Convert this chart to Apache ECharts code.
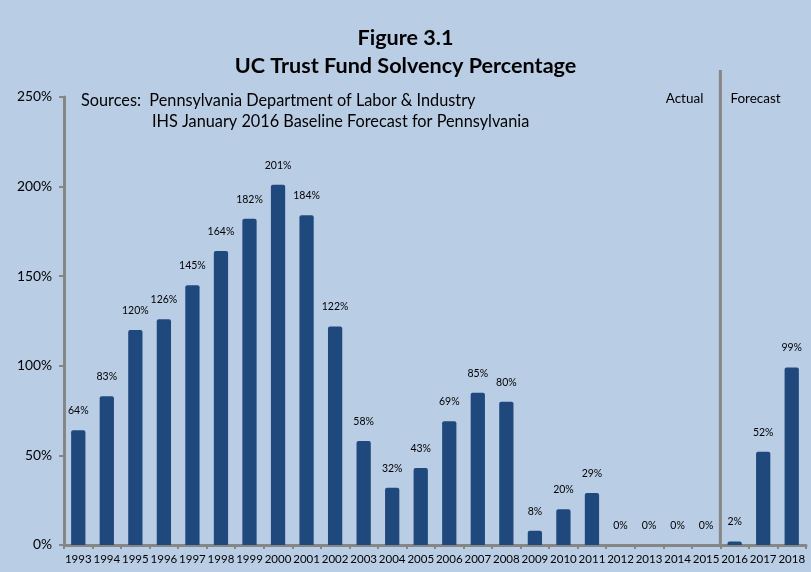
<!DOCTYPE html>
<html><head><meta charset="utf-8">
<script src="https://cdn.jsdelivr.net/npm/echarts@6/dist/echarts.min.js"></script>
<style>html,body{margin:0;padding:0;background:#B9CDE5;}#c{width:811px;height:572px;}</style>
</head><body><div id="c"></div>
<script>
const years = ['1993','1994','1995','1996','1997','1998','1999','2000','2001','2002','2003','2004','2005','2006','2007','2008','2009','2010','2011','2012','2013','2014','2015','2016','2017','2018'];
const solvency = [64,83,120,126,145,164,182,201,184,122,58,32,43,69,85,80,8,20,29,0,0,0,0,2,52,99];
const yTicks = [0,50,100,150,200,250];
const FONT = 'Lato, "Open Sans", sans-serif';
const chart = echarts.init(document.getElementById('c'));
chart.setOption({
  backgroundColor: '#B9CDE5',
  animation: false,
  title: {
    text: 'Figure 3.1\nUC Trust Fund Solvency Percentage',
    left: 'center', top: 19,
    textStyle: {fontFamily: FONT, fontWeight: 'bold', fontSize: 21.6, color: '#000', lineHeight: 28}
  },
  grid: {left: 64, right: 5, top: 97, bottom: 27, containLabel: false},
  xAxis: {
    type: 'category', data: years,
    axisLine: {lineStyle: {color: '#868686', width: 3}},
    axisTick: {show: true, length: 4, lineStyle: {color: '#868686', width: 2}},
    axisLabel: {fontFamily: FONT, fontSize: 11.5, color: '#000', margin: 8, interval: 0}
  },
  yAxis: {
    type: 'value', min: 0, max: 250, interval: 50,
    axisLine: {show: true, lineStyle: {color: '#868686', width: 3}},
    axisTick: {show: true, length: 5, lineStyle: {color: '#868686', width: 2}},
    splitLine: {show: false},
    axisLabel: {fontFamily: FONT, fontSize: 13.8, color: '#000', margin: 12, formatter: v => v + '%'}
  },
  series: [{
    type: 'bar', data: solvency, barWidth: '50%',
    itemStyle: {color: '#1F497D', borderRadius: [2, 2, 0, 0]},
    label: {show: true, position: 'top', distance: 14, fontFamily: FONT, fontSize: 10.5, color: '#000', formatter: p => p.value + '%'}
  }]
});
const x15 = chart.convertToPixel({xAxisIndex: 0}, '2015');
const x16 = chart.convertToPixel({xAxisIndex: 0}, '2016');
const xm = (x15 + x16) / 2;
const y0 = chart.convertToPixel({yAxisIndex: 0}, 0);
chart.setOption({
  graphic: [
    {type: 'line', shape: {x1: xm, y1: 70, x2: xm, y2: y0}, style: {stroke: '#868686', lineWidth: 3}, z: 10},
    {type: 'text', left: 81, top: 93, style: {text: 'Sources:  Pennsylvania Department of Labor & Industry', fontFamily: FONT, fontSize: 16.3, fill: '#000'}},
    {type: 'text', left: 152, top: 114, style: {text: 'IHS January 2016 Baseline Forecast for Pennsylvania', fontFamily: FONT, fontSize: 16.3, fill: '#000'}},
    {type: 'text', right: 811 - xm + 17, top: 92, style: {text: 'Actual', fontFamily: FONT, fontSize: 13.5, fill: '#000', align: 'right'}},
    {type: 'text', left: xm + 10, top: 92, style: {text: 'Forecast', fontFamily: FONT, fontSize: 13.5, fill: '#000'}}
  ]
});
</script></body></html>
